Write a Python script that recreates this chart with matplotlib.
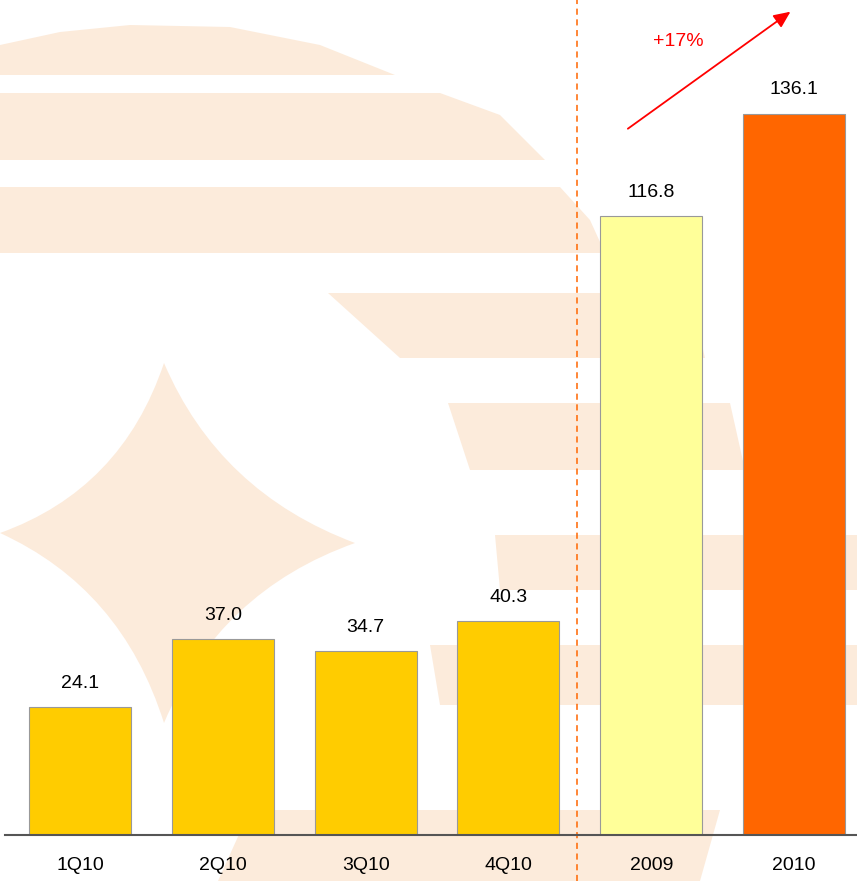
import matplotlib
matplotlib.use('Agg')
import matplotlib.pyplot as plt
from matplotlib.patches import Polygon, PathPatch
from matplotlib.path import Path

plt.rcParams['font.family'] = ['Liberation Sans', 'DejaVu Sans']

categories = ['1Q10', '2Q10', '3Q10', '4Q10', '2009', '2010']
values = [24.1, 37.0, 34.7, 40.3, 116.8, 136.1]
value_labels = ['24.1', '37.0', '34.7', '40.3', '116.8', '136.1']
bar_colors = ['#ffcc00', '#ffcc00', '#ffcc00', '#ffcc00', '#ffff99', '#ff6600']
growth_label = '+17%'

W, H = 857, 881
fig = plt.figure(figsize=(W / 100, H / 100), dpi=100)

# faint logo watermark in the background (pixel coords)
bg = fig.add_axes([0, 0, 1, 1], zorder=0)
bg.set_xlim(0, W)
bg.set_ylim(H, 0)
bg.axis('off')
wm = '#f9d3b0'
bands = [
    [(0, 75), (0, 45), (60, 32), (130, 25), (230, 27), (320, 45), (395, 75)],
    [(0, 93), (440, 93), (500, 115), (545, 160), (0, 160)],
    [(0, 187), (560, 187), (590, 220), (605, 253), (0, 253)],
    [(328, 293), (690, 293), (705, 358), (400, 358)],
    [(448, 403), (730, 403), (745, 470), (470, 470)],
    [(495, 535), (857, 535), (857, 590), (500, 590)],
    [(430, 645), (857, 645), (857, 705), (440, 705)],
    [(250, 810), (720, 810), (700, 881), (218, 881)],
]
for b in bands:
    bg.add_patch(Polygon(b, closed=True, facecolor=wm, edgecolor='none', alpha=0.45))
cx, cy = 170, 540
pts = [(164, 363), (355, 543), (164, 723), (0, 533)]
verts = [pts[0]]
codes = [Path.MOVETO]
for i in range(4):
    p, q = pts[i], pts[(i + 1) % 4]
    mx, my = (p[0] + q[0]) / 2, (p[1] + q[1]) / 2
    ctrl = (cx + 0.55 * (mx - cx), cy + 0.55 * (my - cy))
    verts += [ctrl, q]
    codes += [Path.CURVE3, Path.CURVE3]
diamond = Path(verts, codes)
bg.add_patch(PathPatch(diamond, facecolor=wm, edgecolor='none', alpha=0.45))

# main chart
ax = fig.add_axes([5 / W, 46 / H, 852 / W, 835 / H], zorder=1)
ax.patch.set_alpha(0)
x = list(range(len(categories)))
ax.bar(x, values, width=0.714, color=bar_colors, edgecolor='#999999', linewidth=0.8, zorder=2)
for xi, v, lab in zip(x, values, value_labels):
    ax.annotate(lab, (xi, v), xytext=(0, 14), textcoords='offset points',
                ha='center', va='baseline', fontsize=14, color='black')

ax.set_xlim(-0.525, 5.44)
ax.set_ylim(0, 157.6)
ax.set_xticks(x)
ax.set_xticklabels(categories, fontsize=14)
ax.tick_params(axis='x', length=0, pad=16)
ax.set_yticks([])
for s in ['top', 'right', 'left']:
    ax.spines[s].set_visible(False)
ax.spines['bottom'].set_color('#555555')
ax.spines['bottom'].set_linewidth(1.5)

# divider between quarters and years
ax.axvline(3.48, ymin=-46 / 835, ymax=1, color='#ff6600', linestyle=(0, (4, 3)),
           linewidth=1.1, clip_on=False, zorder=1)

# growth arrow
ax.annotate('', xy=(4.99, 155.7), xytext=(3.82, 133.0),
            arrowprops=dict(arrowstyle='-|>,head_length=1.0,head_width=0.45',
                            color='#ff0000', lw=1.3))
ax.text(4.19, 149.8, growth_label, color='#ff0000', fontsize=14, ha='center', va='center')

plt.savefig('out.png', dpi=100)
